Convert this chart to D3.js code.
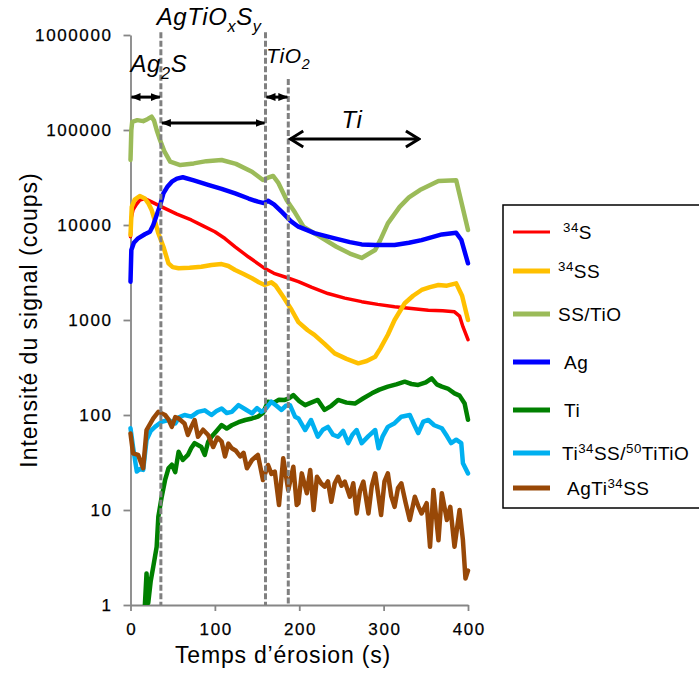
<!DOCTYPE html>
<html><head><meta charset="utf-8">
<script src="https://cdn.jsdelivr.net/npm/d3@7"></script>
<style>body{margin:0;background:#fff}svg{display:block;font-family:"Liberation Sans",Arial,sans-serif}</style>
</head><body><svg id="c" width="699" height="674"></svg>
<script>
// ---- data ----
const xTicks = [0,100,200,300,400];
const yTicks = [1,10,100,1000,10000,100000,1000000];
const seriesNames = ["^{34}S","^{34}SS","SS/TiO","Ag","Ti","Ti^{34}SS/^{50}TiTiO","AgTi^{34}SS"];
const seriesColors = ["#FF0000","#FFC000","#9BBB59","#0000FF","#008000","#00B0F0","#984807"];
const s34S = [[0,7530],[1,12000],[3,14400],[7,16500],[11,18300],[17,19000],[25,17500],[37,15500],[55,13000],[72,11300],[86,9800],[100,8500],[112,7200],[124,5900],[140,4600],[159,3500],[170,3100],[185,2800],[199,2530],[215,2200],[234,1900],[254,1700],[274,1560],[293,1460],[313,1380],[333,1320],[353,1270],[370,1250],[384,1220],[390,1100],[394,850],[400,620]];
const s34SS = [[0,7850],[1.5,15500],[5,18500],[11,20200],[17,19000],[21,17000],[25,14400],[29,11000],[33,8180],[39,5900],[45,3950],[50,3600],[57,3500],[70,3550],[84,3640],[96,3800],[108,3880],[116,3700],[124,3360],[134,3050],[144,2750],[152,2500],[159,2340],[167,2490],[172,2300],[181,1760],[191,1275],[199,950],[210,780],[218,697],[230,560],[242,445],[256,390],[270,350],[280,370],[290,411],[296,500],[305,700],[313,1000],[325,1500],[335,1800],[345,2070],[355,2220],[365,2335],[375,2300],[386,2430],[393,1800],[400,1000]];
const sSSTiO = [[0,48300],[1,100000],[2,122000],[8,127000],[15,124000],[20,130000],[25,138000],[28,125000],[31,100000],[35,78500],[40,60000],[47,46400],[59,42800],[75,44500],[90,47000],[108,48300],[125,44000],[144,36400],[157,29700],[163,31500],[169,32800],[175,28000],[185,18300],[195,13500],[205,9600],[218,8150],[244,5900],[260,5000],[274,4500],[290,5460],[296,6930],[305,10400],[319,15500],[330,19500],[343,23300],[365,29000],[386,29600],[400,8860]];
const sAg = [[0,2530],[1,5460],[4,6500],[9,7240],[17,8000],[23,8500],[27,10000],[31,12700],[35,16000],[39,21500],[44,25500],[49,28600],[55,30800],[62,31800],[75,29500],[92,26500],[108,24000],[124,21500],[140,19000],[151,17600],[158,17000],[163,18000],[170,16500],[179,13800],[190,11000],[199,9600],[218,8200],[242,7240],[260,6600],[274,6250],[290,6150],[313,6160],[330,6500],[345,6930],[369,7960],[386,8270],[392,7000],[400,3950]];
const sTi = [[17,0.98],[19,2.15],[21,1.05],[24,1.8],[27,2.53],[31,4.1],[33,8.5],[37,13.8],[41,20.7],[45,27.5],[49,30],[53,25],[57,41],[62,33.6],[68,38],[72,45],[76,50.6],[84,46],[88,38],[92,52],[96,59],[102,68],[108,78.5],[114,72],[120,78],[128,84],[136,88.6],[144,92],[151,96],[157,105],[163,138],[170,135],[176,145],[183,144],[188,150],[193,162],[200,140],[207,127],[214,135],[222,144],[230,113],[238,125],[246,144],[256,135],[266,132],[276,150],[286,169],[295,185],[305,199],[315,210],[325,224],[333,212],[341,207],[350,220],[357,243],[363,210],[369,199],[376,190],[384,169],[390,160],[396,132],[400,89]];
const sTiSS = [[0,72.5],[3,46],[7.5,25.4],[11,27],[15,26.4],[19,54.6],[24,68],[29,75],[37,85],[45,88.6],[53,81.5],[58,95],[64,100],[72,96],[80,108],[88,112],[96,100],[102,110],[108,117],[114,105],[120,108],[128,127],[136,115],[144,104],[150,118],[155,108],[160,115],[167,138],[173,125],[179,113],[184,125],[189,127],[195,96],[199,92],[207,69.5],[214,88.6],[222,59],[228,70],[234,75],[240,62],[246,59],[252,68],[258,50.6],[263,62],[268,69.5],[274,50.6],[282,60],[290,69.5],[294,44.6],[299,60],[305,75],[313,82],[321,96],[331,100],[336,80],[341,64.5],[347,85],[353,88.6],[360,78],[369,72.5],[375,60],[380,50.6],[386,55],[392,50.6],[394,31],[400,24.3]];
const sAgTiSS = [[0,64],[3,39.5],[9,38],[15,27.5],[19,69.5],[27,92],[33,108],[41,100],[45,90],[49,75],[53,95],[57,92],[64,81.5],[68,61.6],[72,75],[76,88.6],[80,59],[86,70],[92,61.6],[98,46],[103,58],[108,52.5],[112,36.6],[116,50],[120,44.6],[125,42],[130,36.6],[134,40],[138,27.5],[144,33.6],[151,38],[157,20.7],[163,29.8],[167,24],[171,25.4],[176,11.3],[181,35],[187,16.2],[193,28.5],[197,11.3],[199,11.8],[203,24.3],[209,15],[213,26.4],[217,10],[221,22.4],[226,19],[230,17.6],[234,20],[238,12.2],[242,19],[246,22.4],[250,18],[254,19.9],[260,13.8],[264,19.1],[268,9.2],[272,16],[276,19.9],[282,9.2],[286,18],[290,24.3],[297,8.85],[301,20],[305,24.3],[309,14],[313,10.8],[317,17],[321,19.1],[326,12],[331,7.85],[337,13.8],[341,11],[345,9.2],[351,11.8],[355,4.1],[359,16.2],[365,4.8],[369,15],[375,7.85],[379,10.8],[384,4.1],[390,10],[394,4.8],[397,1.9],[400,2.3]];
const seriesData = [s34S,s34SS,sSSTiO,sAg,sTi,sTiSS,sAgTiSS];
// phase boundaries (s) and top of each dashed line (counts)
const boundaries = [36,160,187];
const boundaryTop = [1.07e6,1.07e6,3.44e5];
// phase spans: label, start, end, arrow height (counts), arrow style
const phaseLabels = ["Ag_{2}S","AgTiO_{x}S_{y}","TiO_{2}","Ti"];
const phaseStart = [0,36,160,187];
const phaseEnd = [36,160,187,343];
const phaseArrowV = [222000,118600,222000,80400];
const phaseArrowOpen = [false,false,false,true];
const phaseLabelT = [0,31,161,250];
const phaseLabelV = [408000,1.27e6,507000,105000];
const phaseLabelSize = [24,24,21,24];

// ---- drawing ----
const svg = d3.select("#c");
const x = d3.scaleLinear().domain([0,400]).range([130.5,468]);
const y = d3.scaleLog().domain([1,1e6]).range([605,35]);

function rich(sel, str, fs) {
  const parts = str.match(/(\^\{[^}]*\}|_\{[^}]*\}|[^^_]+)/g);
  let shift = 0;
  parts.forEach(p => {
    let target = 0, txt = p, size = fs;
    if (p.startsWith("^{")) { target = -0.38*fs; txt = p.slice(2,-1); size = fs*0.7; }
    else if (p.startsWith("_{")) { target = 0.28*fs; txt = p.slice(2,-1); size = fs*0.68; }
    sel.append("tspan").attr("dy", target - shift).attr("font-size", size).text(txt);
    shift = target;
  });
}

const defs = svg.append("defs");
defs.append("clipPath").attr("id","clip").append("rect").attr("x",128).attr("y",20).attr("width",345).attr("height",585);
defs.append("marker").attr("id","fa").attr("viewBox","0 -5 10 10").attr("refX",9).attr("refY",0)
  .attr("markerUnits","userSpaceOnUse").attr("markerWidth",10).attr("markerHeight",10).attr("orient","auto-start-reverse")
  .append("path").attr("d","M0,-4L10,0L0,4Z").attr("fill","#000");
defs.append("marker").attr("id","oa").attr("viewBox","-1 -10 16 20").attr("refX",13).attr("refY",0)
  .attr("markerUnits","userSpaceOnUse").attr("markerWidth",16).attr("markerHeight",20).attr("orient","auto-start-reverse")
  .append("path").attr("d","M0,-8L13,0L0,8").attr("fill","none").attr("stroke","#000").attr("stroke-width",3);

// axes
const axisCol = "#868686";
const yAxis = svg.append("g").attr("transform","translate(130.5,0)")
  .call(d3.axisLeft(y).tickValues(yTicks).tickFormat(d3.format("d")).tickSize(7).tickSizeOuter(0));
const xAxis = svg.append("g").attr("transform","translate(0,605)")
  .call(d3.axisBottom(x).tickValues(xTicks).tickSize(6).tickSizeOuter(0));
[yAxis,xAxis].forEach(a => {
  a.selectAll("path,line").attr("stroke",axisCol).attr("stroke-width",1.8);
  a.selectAll("text").attr("font-size",17).attr("fill","#000").attr("letter-spacing","1.6px")
    .attr("stroke","#000").attr("stroke-width",0.25).attr("font-family","Liberation Sans, Arial");
});
yAxis.selectAll("text").attr("x",-18);
xAxis.selectAll("text").attr("y",18).attr("dx","0.8px");

// series
const line = d3.line().x(d => x(d[0])).y(d => y(d[1]));
const plot = svg.append("g").attr("clip-path","url(#clip)");
seriesData.forEach((s,i) => {
  plot.append("path").datum(s).attr("d",line).attr("fill","none")
    .attr("stroke",seriesColors[i]).attr("stroke-width", i===0 ? 3.5 : 4.5)
    .attr("stroke-linejoin","round").attr("stroke-linecap","round");
});

// dashed boundaries
boundaries.forEach((b,i) => {
  svg.append("line").attr("x1",x(b)).attr("x2",x(b)).attr("y1",y(boundaryTop[i])).attr("y2",y(1))
    .attr("stroke","#808080").attr("stroke-width",3).attr("stroke-dasharray","6,2.5");
});

// phase arrows and labels
phaseLabels.forEach((lab,i) => {
  const open = phaseArrowOpen[i];
  const x0 = x(phaseStart[i]) + (open ? 2 : 1), x1 = x(phaseEnd[i]) - 1;
  svg.append("line").attr("x1",x0).attr("x2",x1).attr("y1",y(phaseArrowV[i])).attr("y2",y(phaseArrowV[i]))
    .attr("stroke","#000").attr("stroke-width",3)
    .attr("marker-start", open ? "url(#oa)" : "url(#fa)").attr("marker-end", open ? "url(#oa)" : "url(#fa)");
  const t = svg.append("text").attr("x",x(phaseLabelT[i])).attr("y",y(phaseLabelV[i]))
    .attr("font-style","italic").attr("font-size",phaseLabelSize[i]).attr("fill","#000").attr("letter-spacing","0.6px");
  rich(t, lab, phaseLabelSize[i]);
});

// axis titles
svg.append("text").attr("transform","translate(37,320) rotate(-90)").attr("text-anchor","middle")
  .attr("font-size",23).attr("letter-spacing","1px").attr("fill","#000").text("Intensité du signal (coups)");
svg.append("text").attr("x",283).attr("y",663).attr("text-anchor","middle")
  .attr("font-size",23).attr("letter-spacing","0.8px").attr("fill","#000").text("Temps d’érosion (s)");

// legend
const legY = [232,271,314,362,410,453,488];
const legTX = [563,558,558,564,564,562,567];
svg.append("rect").attr("x",503).attr("y",205).attr("width",210).attr("height",303)
  .attr("fill","#fff").attr("stroke","#000").attr("stroke-width",1.5);
seriesNames.forEach((n,i) => {
  svg.append("line").attr("x1",513).attr("x2",550).attr("y1",legY[i]).attr("y2",legY[i])
    .attr("stroke",seriesColors[i]).attr("stroke-width", i===0 ? 3 : 5);
  const t = svg.append("text").attr("x",legTX[i]).attr("y",legY[i]+7).attr("font-size",19)
    .attr("letter-spacing","0.5px").attr("fill","#000");
  rich(t, n, 19);
});
</script></body></html>
